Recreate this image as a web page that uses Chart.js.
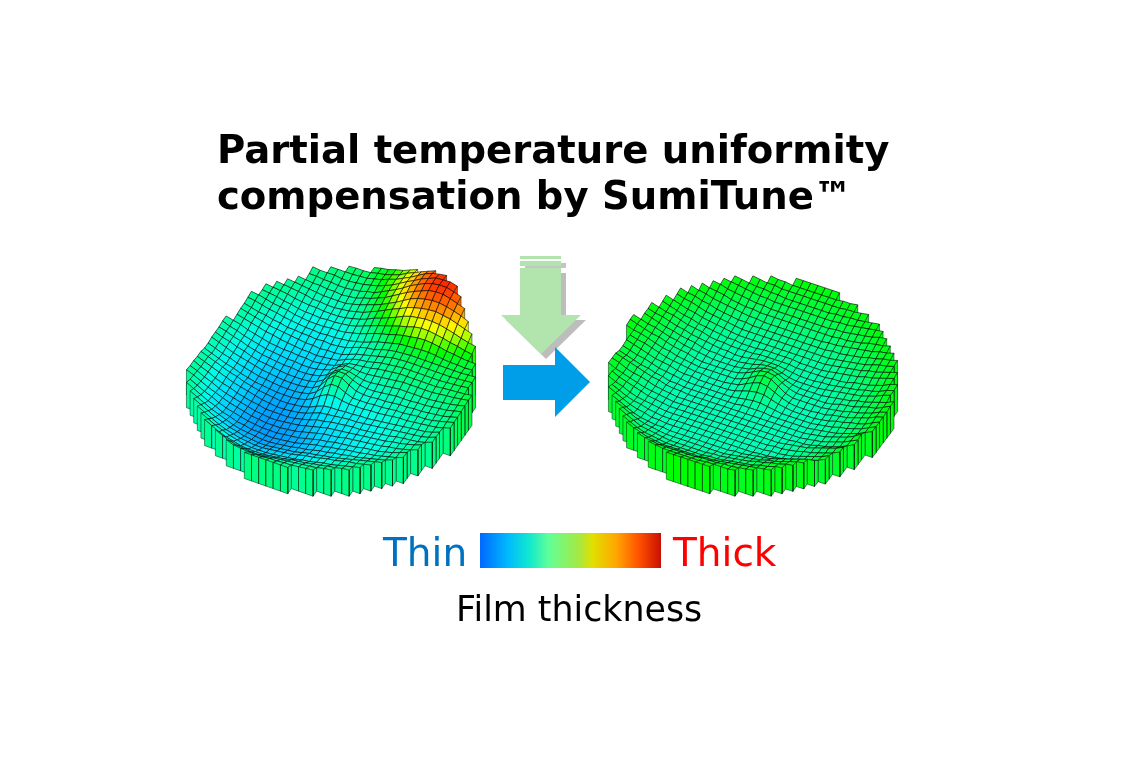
<!DOCTYPE html>
<html>
<head>
<meta charset="utf-8">
<title>Film thickness</title>
<script src="https://cdn.jsdelivr.net/npm/chart.js@4"></script>
<style>
    body { margin: 0; background: #fff; width: 1128px; height: 765px; position: relative; overflow: hidden; }
    canvas { position: absolute; left: 0; top: 0; filter: blur(0.45px); }
    .txt { position: absolute; font-family: "DejaVu Sans", sans-serif; white-space: nowrap; }
</style>
</head>
<body>
<canvas id="chart" width="1128" height="765"></canvas>
<div class="txt" style="left:217px;top:127px;font-size:38.6px;font-weight:bold;line-height:46px;color:#000">Partial temperature uniformity<br>compensation by SumiTune™</div>
<div class="txt" style="left:383px;top:530px;font-size:39px;color:#0070c0">Thin</div>
<div class="txt" style="left:673px;top:530px;font-size:39px;color:#ff0000">Thick</div>
<div class="txt" style="left:456px;top:589px;font-size:34.8px;color:#000">Film thickness</div>
<script>
// Alturas, una fila por linea (de atras hacia delante); null = fuera del disco
const leftHeights = [
    [45,48,50,54,57,62,67],
    [43,44,44,45,48,50,54,58,65,70,76,81,86],
    [42,42,42,42,43,44,47,50,55,59,65,71,78,85,90,93,95],
    [42,41,41,41,40,40,41,42,45,48,53,58,65,72,78,85,90,95,96,97,94],
    [null,40,40,39,39,38,38,39,40,43,45,51,57,63,70,78,84,90,94,96,96,93,89],
    [null,40,39,38,38,37,37,36,37,38,41,44,49,54,61,68,75,81,86,91,93,93,90,86,82],
    [null,40,39,38,37,36,35,35,35,35,37,39,42,46,51,57,63,70,77,82,85,87,87,85,82,78,73],
    [null,40,39,38,37,36,34,34,33,33,34,35,37,39,43,48,54,60,65,71,75,78,80,81,79,77,73,69,65],
    [null,40,39,38,37,35,34,33,33,32,32,32,33,35,37,40,45,49,54,59,65,69,71,73,73,72,69,66,62,59,57],
    [null,39,38,37,35,34,32,31,31,30,31,31,32,33,35,38,41,45,49,53,57,60,64,66,66,64,62,59,57,54,52],
    [null,40,39,37,35,34,33,31,30,29,29,29,30,30,31,33,35,38,41,44,47,51,54,56,58,59,58,56,53,52,50,49,49],
    [null,39,38,36,34,33,31,30,29,28,28,27,28,28,29,30,32,34,37,40,42,45,48,49,50,51,51,50,48,47,47,46,47],
    [null,null,38,36,34,33,31,30,28,28,27,27,26,27,26,27,28,31,34,36,37,40,42,44,45,46,46,46,46,46,46,46,46,47,48],
    [null,null,38,36,34,32,30,29,28,27,26,25,25,24,25,25,26,29,32,34,36,38,40,42,43,44,44,44,44,44,44,44,45,46,47],
    [null,null,37,35,33,31,29,28,26,25,24,23,23,22,23,24,25,29,32,34,35,37,39,40,41,42,42,42,42,42,42,43,44,45,47],
    [null,null,38,36,34,31,29,27,25,24,23,23,22,22,21,22,23,25,29,33,34,35,36,38,39,40,41,41,41,41,41,41,42,43,44,45,47],
    [null,null,38,35,33,30,28,26,24,23,22,21,21,20,20,21,23,26,32,36,36,35,35,36,37,38,39,40,40,40,40,40,41,42,43,45,47],
    [null,null,37,35,32,30,27,25,23,22,21,20,20,19,19,20,22,26,33,38,38,36,34,34,35,36,37,38,38,38,38,38,39,40,41,43,46],
    [null,null,37,34,32,29,27,24,22,21,20,19,18,18,18,19,21,26,35,41,41,37,34,33,33,34,35,36,36,36,37,37,38,39,40,42,45],
    [null,null,37,34,31,28,26,24,22,20,19,18,17,17,17,18,20,25,35,42,42,37,33,32,32,33,33,34,35,35,36,36,37,38,39,41,44],
    [null,null,36,33,30,28,25,23,21,19,18,17,16,16,16,17,19,24,32,38,38,34,31,31,31,32,32,33,34,34,35,36,36,37,39,41,44],
    [null,null,36,33,30,27,25,22,20,18,17,16,15,15,15,16,18,22,28,32,33,31,30,30,30,31,31,32,33,34,34,35,36,37,38,40,43],
    [null,38,35,32,29,26,24,21,19,17,16,15,14,14,15,16,18,22,25,26,26,27,27,28,28,29,30,31,32,33,34,35,36,38,41],
    [null,38,35,32,29,26,23,21,19,17,15,14,13,13,14,15,17,20,23,24,25,26,27,27,28,29,30,31,32,33,34,35,36,38,41],
    [41,39,35,32,28,25,23,20,18,16,15,13,13,13,13,14,16,18,21,22,24,25,26,27,27,28,29,30,31,33,34,35,36,38,41],
    [39,36,32,29,25,22,20,18,16,14,13,12,12,13,14,15,17,19,21,23,24,25,26,27,28,29,30,31,33,34,36,38,41],
    [40,37,33,29,26,23,20,18,16,14,13,12,12,12,13,14,16,18,20,22,23,24,26,27,28,29,30,31,33,34,36,38,41],
    [38,34,30,27,23,20,18,16,14,13,12,12,12,13,14,15,17,19,21,22,24,25,26,27,29,30,31,33,35,38,41],
    [40,36,32,28,25,21,19,16,15,13,13,12,12,13,14,15,17,19,21,22,24,25,27,28,29,31,32,34,36,38,41],
    [39,35,31,27,24,21,18,16,15,14,13,13,14,15,16,18,19,21,23,24,26,27,29,30,32,34,36,38,41],
    [39,35,31,27,24,21,19,17,16,15,15,16,17,18,19,21,23,24,26,27,29,31,33,35,37,39,41],
    [39,35,31,27,24,22,20,19,18,18,19,20,21,22,24,26,27,29,31,32,34,36,37,39,41],
    [40,36,32,29,26,24,22,21,21,21,22,23,24,25,27,28,30,32,33,35,37,39,41],
    [41,37,33,30,28,26,25,25,25,26,27,28,30,31,32,34,35,37,38,40,41],
    [41,37,34,32,31,30,30,31,32,33,34,35,36,37,38,40,41],
    [41,38,37,36,36,36,37,37,38,38,39,40,41],
    [41,41,41,41,41,41,41]
];
const rightHeights = [
    [52,52,52,52,52,52,52],
    [52,51,51,50,50,50,50,50,50,50,51,51,52],
    [52,51,50,50,49,49,49,49,49,49,49,49,49,50,50,51,52],
    [52,51,50,49,49,48,48,47,47,47,47,47,47,47,48,48,49,49,50,51,52],
    [52,51,50,49,48,47,47,46,46,46,46,46,46,46,46,46,47,47,48,49,50,51,52],
    [52,51,49,48,47,46,45,45,44,44,44,44,44,44,44,44,44,45,45,46,47,48,49,51,52],
    [52,50,49,48,46,45,44,44,43,43,43,43,43,43,43,43,43,43,43,44,44,45,46,48,49,50,52],
    [52,50,49,47,46,45,44,43,42,42,41,41,41,41,41,41,41,41,41,42,42,43,44,45,46,47,49,50,52],
    [52,50,49,47,46,44,43,42,41,41,40,40,40,40,40,40,40,40,40,40,40,41,41,42,43,44,46,47,49,50,52],
    [51,49,48,46,44,43,42,41,40,39,39,39,39,39,39,39,39,39,39,39,39,39,40,41,42,43,44,46,48,49,51],
    [52,50,48,46,45,43,42,41,40,39,38,38,38,38,38,38,38,38,38,38,38,38,38,39,40,41,42,43,45,46,48,50,52],
    [51,49,47,45,44,42,41,40,39,38,38,37,37,37,38,38,38,38,38,37,37,37,37,38,39,40,41,42,44,45,47,49,51],
    [52,50,48,47,45,43,42,41,39,38,38,37,37,37,37,38,38,38,38,38,37,37,37,37,37,38,38,39,41,42,43,45,47,50,52],
    [51,49,48,46,44,43,41,40,39,38,37,37,36,36,37,38,39,39,39,38,37,36,36,36,37,37,38,39,40,41,43,44,46,49,51],
    [51,49,47,45,44,42,41,40,38,37,37,36,36,36,37,38,40,41,41,39,37,36,36,36,36,37,38,39,40,41,42,44,46,49,51],
    [52,50,48,47,45,43,42,40,39,38,37,36,36,36,36,37,38,41,43,44,42,39,37,36,36,36,36,37,38,39,40,42,43,45,47,49,52],
    [52,50,48,46,45,43,41,40,39,37,36,36,36,36,36,37,39,42,45,46,45,41,38,36,36,36,36,36,37,39,40,41,43,45,46,49,52],
    [51,49,48,46,44,42,41,39,38,37,36,36,36,36,36,36,38,41,45,47,46,42,38,36,36,36,36,36,37,38,39,41,42,44,46,49,51],
    [null,49,47,46,44,42,40,39,38,37,36,36,35,35,35,36,37,40,43,45,44,41,38,36,35,35,35,36,36,38,39,40,42,44,46,49,51],
    [null,49,47,45,43,41,40,39,37,36,36,35,35,35,35,35,36,38,40,41,41,39,37,36,35,35,35,35,36,37,39,40,42,43,45,48,51],
    [null,48,46,44,43,41,39,38,37,36,35,35,35,35,35,35,35,36,37,38,38,37,36,35,35,35,35,35,36,37,38,40,41,43,45,48,51],
    [null,48,46,44,42,41,39,38,36,36,35,35,35,35,35,35,35,35,36,36,36,36,35,35,35,35,35,35,36,37,38,39,41,43,45,48,51],
    [50,48,46,44,42,40,39,37,36,36,35,35,35,35,35,35,35,35,35,35,35,35,35,35,35,35,35,36,37,38,40,42,44,47,51],
    [50,48,45,43,42,40,38,37,36,35,35,35,35,35,35,35,35,35,35,35,35,35,35,35,35,35,35,36,37,38,40,42,44,47,50],
    [50,47,45,43,41,39,38,37,36,35,35,35,35,35,35,35,35,35,35,35,35,35,35,35,35,35,36,36,37,39,40,42,44,47,50],
    [49,46,44,42,40,38,37,36,35,35,35,35,35,35,35,35,35,35,35,35,35,35,35,35,36,37,38,39,41,43,45,47,50],
    [49,46,44,41,39,38,37,36,35,35,35,35,35,35,35,35,35,35,35,35,35,35,35,36,36,37,38,40,41,43,45,47,50],
    [48,45,42,40,39,37,36,35,35,35,35,35,35,35,35,35,35,35,35,35,35,35,36,36,37,38,40,42,44,46,49],
    [50,47,44,41,39,38,36,36,35,35,35,35,35,35,35,35,35,35,35,35,35,36,36,37,38,39,41,43,45,47,50],
    [49,46,43,40,38,37,36,36,35,35,35,35,35,35,35,35,35,36,36,37,38,39,40,42,44,46,48,50,51],
    [50,47,44,41,39,38,37,36,36,36,36,36,36,36,36,36,37,38,39,40,41,43,44,46,48,50,51],
    [50,47,44,41,40,39,38,37,37,37,37,37,37,38,38,39,40,41,42,44,45,47,48,50,51],
    [50,47,44,42,41,40,39,39,39,39,39,39,40,40,41,42,43,44,45,47,48,50,51],
    [51,48,46,44,43,42,42,42,42,42,42,43,43,44,45,46,47,48,49,50,51],
    [50,48,47,46,46,46,46,46,46,47,47,47,48,48,49,50,51],
    [51,50,49,49,49,49,49,49,50,50,50,50,51],
    [52,52,52,52,52,52,52]
];

// Escala de color: altura -> color
const scaleHeights = [0, 14, 22, 30, 36, 42, 52, 62, 70, 82, 100];
const scaleColors = ['#0060ff', '#00a8ff', '#00dcff', '#00ffe8', '#00ffb0', '#00ff78', '#00ff00', '#a0ff00', '#ffff00', '#ff9000', '#ff1000'];

// Barra de leyenda
const legendOffsets = [0, 0.15, 0.27, 0.38, 0.55, 0.62, 0.75, 0.88, 1];
const legendColors = ['#0068ff', '#00b8ff', '#10e8d0', '#60ff98', '#a8e840', '#e0e000', '#ffa800', '#ff5000', '#c81000'];
const legendBarX = [480, 661, 661, 480, 480];
const legendBarY = [533, 533, 568, 568, 533];

// Flechas
const downArrowX = [520, 561, 561, 581, 541, 501, 520, 520];
const downArrowY = [268, 268, 315, 315, 354, 315, 315, 268];
const stripeOneX = [520, 561, 561, 520, 520];
const stripeOneY = [256, 256, 259, 259, 256];
const stripeTwoX = [520, 561, 561, 520, 520];
const stripeTwoY = [261, 261, 266, 266, 261];
const rightArrowX = [503, 555, 555, 590, 555, 555, 503, 503];
const rightArrowY = [365, 365, 347, 382, 417, 400, 400, 365];

const GRID = 36, MID = 18;
const U = { x: 7.23, y: 2.53 };
const V = { x: -3.61, y: 5.06 };

function heightColor(h) {
    let k = 0;
    while (k < scaleHeights.length - 2 && h > scaleHeights[k + 1]) k++;
    const t = Math.min(1, Math.max(0, (h - scaleHeights[k]) / (scaleHeights[k + 1] - scaleHeights[k])));
    const a = parseInt(scaleColors[k].slice(1), 16), b = parseInt(scaleColors[k + 1].slice(1), 16);
    const mix = s => Math.round(((a >> s) & 255) * (1 - t) + ((b >> s) & 255) * t);
    return `rgb(${mix(16)},${mix(8)},${mix(0)})`;
}

function polygon(xs, ys, color, border, width) {
    return {
        data: xs.map((x, n) => ({ x, y: ys[n] })),
        showLine: true, fill: 'shape', tension: 0, pointRadius: 0, clip: false,
        backgroundColor: color,
        borderColor: border || color,
        borderWidth: width === undefined ? 0 : width
    };
}

function buildDisc(rows, disc) {
    // Cada fila esta centrada en la malla cuadrada
    const at = (i, j) => {
        const row = rows[i];
        if (!row) return null;
        const v = row[j - (GRID + 1 - row.length) / 2];
        return v === undefined ? null : v;
    };
    const flat = (i, j) => ({
        x: disc.cx + (j - MID) * U.x + (i - MID) * V.x,
        y: disc.cy + ((j - MID) * U.y + (i - MID) * V.y) * disc.squash
    });
    const top = (i, j) => {
        const p = flat(i, j);
        const dz = at(i, j) - disc.rim;
        return { x: p.x, y: p.y - dz * (dz > 0 ? disc.zUp : disc.zDown) };
    };
    const base = (i, j) => {
        const p = flat(i, j);
        return { x: p.x, y: p.y + disc.wall };
    };
    const cellOk = (i, j) => [at(i, j), at(i, j + 1), at(i + 1, j), at(i + 1, j + 1)].every(v => v !== null);
    const items = [];
    const wallQuad = (i1, j1, i2, j2) => {
        const pts = [top(i1, j1), top(i2, j2), base(i2, j2), base(i1, j1), top(i1, j1)];
        items.push({
            depth: (flat(i1, j1).y + flat(i2, j2).y) / 2,
            ds: polygon(pts.map(p => p.x), pts.map(p => p.y), heightColor((at(i1, j1) + at(i2, j2)) / 2), 'rgba(0,40,20,0.65)', 0.8)
        });
    };
    for (let i = 0; i < GRID; i++) {
        for (let j = 0; j < GRID; j++) {
            if (!cellOk(i, j)) continue;
            const pts = [top(i, j), top(i, j + 1), top(i + 1, j + 1), top(i + 1, j), top(i, j)];
            const h = (at(i, j) + at(i, j + 1) + at(i + 1, j) + at(i + 1, j + 1)) / 4;
            items.push({
                depth: (flat(i, j).y + flat(i + 1, j + 1).y) / 2,
                ds: polygon(pts.map(p => p.x), pts.map(p => p.y), heightColor(h), 'rgba(0,0,0,0.72)', 0.85)
            });
            if (!cellOk(i + 1, j)) wallQuad(i + 1, j, i + 1, j + 1);
            if (!cellOk(i, j + 1)) wallQuad(i, j + 1, i + 1, j + 1);
        }
    }
    items.sort((a, b) => a.depth - b.depth);
    return items.map(item => item.ds);
}

const ctx = document.getElementById('chart').getContext('2d');
const legendGradient = ctx.createLinearGradient(480, 0, 661, 0);
legendOffsets.forEach((o, n) => legendGradient.addColorStop(o, legendColors[n]));

const shift = (arr, d) => arr.map(v => v + d);
const datasets = [
    ...buildDisc(leftHeights, { cx: 331, cy: 368, rim: 42, zUp: 0.6, zDown: 0.9, wall: 27, squash: 1 }),
    ...buildDisc(rightHeights, { cx: 753, cy: 372.5, rim: 52, zUp: 0.6, zDown: 1.15, wall: 27, squash: 0.955 }),
    polygon(shift(downArrowX, 5), shift(downArrowY, 5), 'rgba(90,90,90,0.4)'),
    polygon(shift(stripeTwoX, 5), shift(stripeTwoY, 2), 'rgba(90,90,90,0.35)'),
    polygon(stripeOneX, stripeOneY, '#b2e5ae'),
    polygon(stripeTwoX, stripeTwoY, '#b2e5ae'),
    polygon(downArrowX, downArrowY, '#b2e5ae'),
    polygon(rightArrowX, rightArrowY, '#009ee8'),
    polygon(legendBarX, legendBarY, legendGradient)
].reverse(); // el primer dataset se pinta encima

new Chart(ctx, {
    type: 'scatter',
    data: { datasets },
    options: {
        responsive: false,
        animation: false,
        events: [],
        layout: { padding: 0 },
        plugins: { legend: { display: false }, tooltip: { enabled: false } },
        scales: {
            x: { type: 'linear', display: false, min: 0, max: 1128 },
            y: { type: 'linear', display: false, min: 0, max: 765, reverse: true }
        }
    }
});
</script>
</body>
</html>
